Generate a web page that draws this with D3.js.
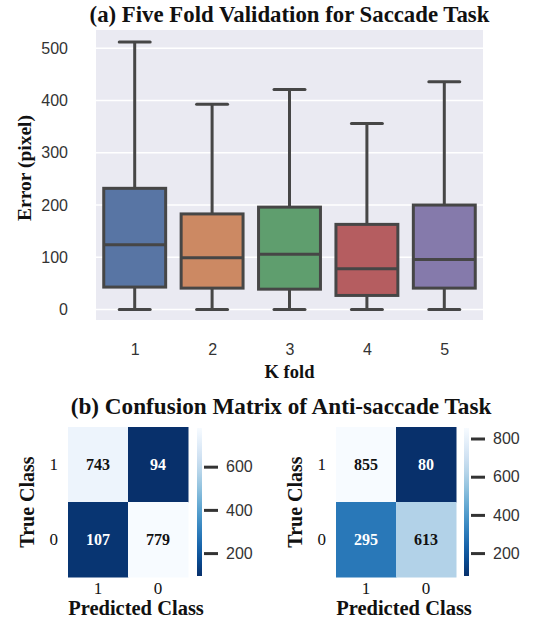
<!DOCTYPE html>
<html>
<head>
<meta charset="utf-8">
<script src="https://cdn.jsdelivr.net/npm/d3@7"></script>
<style>
  html, body { margin: 0; padding: 0; background: #ffffff; }
  svg { display: block; }
</style>
</head>
<body>
<svg id="fig" width="539" height="622"></svg>
<script>
// ---- Five-fold box plot data (pixel error) ----
const folds = ["1", "2", "3", "4", "5"];
const whiskerLow = [0, 0, 0, 0, 0];
const q1 = [43, 41, 39, 27, 41];
const medians = [124, 99, 106, 78, 96];
const q3 = [232, 183, 196, 163, 200];
const whiskerHigh = [512, 393, 421, 356, 436];
const errorTicks = [0, 100, 200, 300, 400, 500];
const boxColors = ["#5875a4", "#cc8963", "#5f9e6e", "#b55d60", "#857aab"];

// ---- Confusion matrices (rows: true class, cols: predicted class) ----
const classLabels = ["1", "0"];
const matrixLeft = [[743, 94], [107, 779]];
const matrixRight = [[855, 80], [295, 613]];
const colorbarTicksLeft = [200, 400, 600];
const colorbarTicksRight = [200, 400, 600, 800];

const svg = d3.select("#fig");
const serif = "'Liberation Serif', 'Times New Roman', serif";
const sans = "'Liberation Sans', Arial, sans-serif";
const lineCol = "#464646";

// ================= Box plot =================
const plot = { left: 96, right: 483, top: 30, bottom: 320 };
const x = d3.scalePoint().domain(folds).range([plot.left, plot.right]).padding(0.5);
const y = d3.scaleLinear().domain([-20, 535]).range([plot.bottom, plot.top]);
const boxW = x.step() * 0.8;
const capW = boxW * 0.5;

svg.append("rect")
  .attr("x", plot.left).attr("y", plot.top)
  .attr("width", plot.right - plot.left).attr("height", plot.bottom - plot.top)
  .attr("fill", "#eaeaf2");

svg.append("g").selectAll("line").data(errorTicks).join("line")
  .attr("x1", plot.left).attr("x2", plot.right)
  .attr("y1", d => y(d)).attr("y2", d => y(d))
  .attr("stroke", "#ffffff").attr("stroke-width", 1.6);

const yAxis = svg.append("g")
  .attr("transform", `translate(${plot.left},0)`)
  .call(d3.axisLeft(y).tickValues(errorTicks).tickSize(0).tickPadding(28));
yAxis.select(".domain").remove();
yAxis.selectAll("text")
  .attr("font-family", sans).attr("font-size", 16).attr("fill", "#333333");

const xAxis = svg.append("g")
  .attr("transform", `translate(0,${plot.bottom})`)
  .call(d3.axisBottom(x).tickSize(0).tickPadding(24));
xAxis.select(".domain").remove();
xAxis.selectAll("text")
  .attr("font-family", sans).attr("font-size", 16).attr("fill", "#333333");

const boxes = svg.append("g").selectAll("g").data(folds).join("g");
boxes.append("line")
  .attr("x1", d => x(d)).attr("x2", d => x(d))
  .attr("y1", (d, i) => y(q3[i])).attr("y2", (d, i) => y(whiskerHigh[i]))
  .attr("stroke", lineCol).attr("stroke-width", 3);
boxes.append("line")
  .attr("x1", d => x(d)).attr("x2", d => x(d))
  .attr("y1", (d, i) => y(q1[i])).attr("y2", (d, i) => y(whiskerLow[i]))
  .attr("stroke", lineCol).attr("stroke-width", 3);
boxes.append("line")
  .attr("x1", d => x(d) - capW / 2).attr("x2", d => x(d) + capW / 2)
  .attr("y1", (d, i) => y(whiskerHigh[i])).attr("y2", (d, i) => y(whiskerHigh[i]))
  .attr("stroke", lineCol).attr("stroke-width", 3).attr("stroke-linecap", "round");
boxes.append("line")
  .attr("x1", d => x(d) - capW / 2).attr("x2", d => x(d) + capW / 2)
  .attr("y1", (d, i) => y(whiskerLow[i])).attr("y2", (d, i) => y(whiskerLow[i]))
  .attr("stroke", lineCol).attr("stroke-width", 3).attr("stroke-linecap", "round");
boxes.append("rect")
  .attr("x", d => x(d) - boxW / 2).attr("width", boxW)
  .attr("y", (d, i) => y(q3[i])).attr("height", (d, i) => y(q1[i]) - y(q3[i]))
  .attr("fill", (d, i) => boxColors[i])
  .attr("stroke", lineCol).attr("stroke-width", 3);
boxes.append("line")
  .attr("x1", d => x(d) - boxW / 2).attr("x2", d => x(d) + boxW / 2)
  .attr("y1", (d, i) => y(medians[i])).attr("y2", (d, i) => y(medians[i]))
  .attr("stroke", lineCol).attr("stroke-width", 3);

svg.append("text")
  .attr("x", 289.5).attr("y", 22).attr("text-anchor", "middle")
  .attr("font-family", serif).attr("font-weight", "bold").attr("font-size", 22.8)
  .attr("fill", "#111").text("(a) Five Fold Validation for Saccade Task");

svg.append("text")
  .attr("transform", "translate(31,168) rotate(-90)")
  .attr("text-anchor", "middle")
  .attr("font-family", serif).attr("font-weight", "bold").attr("font-size", 19.5)
  .attr("fill", "#111").text("Error (pixel)");

svg.append("text")
  .attr("x", 289.5).attr("y", 378).attr("text-anchor", "middle")
  .attr("font-family", serif).attr("font-weight", "bold").attr("font-size", 18.5)
  .attr("fill", "#111").text("K fold");

// ================= Confusion matrices =================
svg.append("text")
  .attr("x", 281).attr("y", 414).attr("text-anchor", "middle")
  .attr("font-family", serif).attr("font-weight", "bold").attr("font-size", 23.2)
  .attr("fill", "#111").text("(b) Confusion Matrix of Anti-saccade Task");

const defs = svg.append("defs");

function heatmap(id, matrix, cbTicks, layout) {
  const flat = matrix.flat();
  const vmin = d3.min(flat), vmax = d3.max(flat);
  const color = v => d3.interpolateBlues(1 - (v - vmin) / (vmax - vmin));

  const cx = d3.scaleBand().domain(classLabels).range([layout.left, layout.left + 120]);
  const cy = d3.scaleBand().domain(classLabels).range([layout.top, layout.top + 150]);

  const cells = [];
  matrix.forEach((row, r) => row.forEach((v, c) => cells.push({ r: classLabels[r], c: classLabels[c], v })));

  const g = svg.append("g");
  g.selectAll("rect").data(cells).join("rect")
    .attr("x", d => cx(d.c)).attr("y", d => cy(d.r))
    .attr("width", cx.bandwidth() + 0.5).attr("height", cy.bandwidth() + 0.5)
    .attr("fill", d => color(d.v));
  g.selectAll("text.val").data(cells).join("text").attr("class", "val")
    .attr("x", d => cx(d.c) + cx.bandwidth() / 2)
    .attr("y", d => cy(d.r) + cy.bandwidth() / 2)
    .attr("dy", "0.35em").attr("text-anchor", "middle")
    .attr("font-family", serif).attr("font-weight", "bold").attr("font-size", 16)
    .attr("fill", d => ((d.v - vmin) / (vmax - vmin) < 0.4 ? "#ffffff" : "#111111"))
    .text(d => d.v);

  // row and column class labels
  const ay = g.append("g").attr("transform", `translate(${layout.left},0)`)
    .call(d3.axisLeft(cy).tickSize(0).tickPadding(10));
  ay.select(".domain").remove();
  ay.selectAll("text").attr("font-family", serif).attr("font-size", 17).attr("fill", "#111");
  const ax = g.append("g").attr("transform", `translate(0,${layout.top + 150})`)
    .call(d3.axisBottom(cx).tickSize(0).tickPadding(5));
  ax.select(".domain").remove();
  ax.selectAll("text").attr("font-family", serif).attr("font-size", 17).attr("fill", "#111");

  g.append("text")
    .attr("transform", `translate(${layout.left - 34},${layout.top + 75}) rotate(-90)`)
    .attr("text-anchor", "middle")
    .attr("font-family", serif).attr("font-weight", "bold").attr("font-size", 20)
    .attr("fill", "#111").text("True Class");
  g.append("text")
    .attr("x", layout.left + 68).attr("y", layout.top + 188)
    .attr("text-anchor", "middle")
    .attr("font-family", serif).attr("font-weight", "bold").attr("font-size", 20.5)
    .attr("fill", "#111").text("Predicted Class");

  // colour bar
  const grad = defs.append("linearGradient").attr("id", id)
    .attr("x1", 0).attr("y1", 1).attr("x2", 0).attr("y2", 0);
  d3.range(0, 1.0001, 0.1).forEach(t => {
    grad.append("stop").attr("offset", t).attr("stop-color", d3.interpolateBlues(1 - t));
  });
  const cb = d3.scaleLinear().domain([vmin, vmax]).range([layout.top + 149, layout.top + 1]);
  g.append("rect")
    .attr("x", layout.cbX).attr("y", cb(vmax))
    .attr("width", 5).attr("height", cb(vmin) - cb(vmax))
    .attr("fill", `url(#${id})`);
  const acb = g.append("g").attr("transform", `translate(${layout.cbX + 7},0)`)
    .call(d3.axisRight(cb).tickValues(cbTicks).tickSize(14).tickPadding(8));
  acb.select(".domain").remove();
  acb.selectAll("line").attr("stroke", "#333").attr("stroke-width", 3);
  acb.selectAll("text").attr("font-family", sans).attr("font-size", 16).attr("fill", "#333");
}

heatmap("cbLeft", matrixLeft, colorbarTicksLeft, { left: 68, top: 427, cbX: 197 });
heatmap("cbRight", matrixRight, colorbarTicksRight, { left: 336, top: 427, cbX: 464 });
</script>
</body>
</html>
